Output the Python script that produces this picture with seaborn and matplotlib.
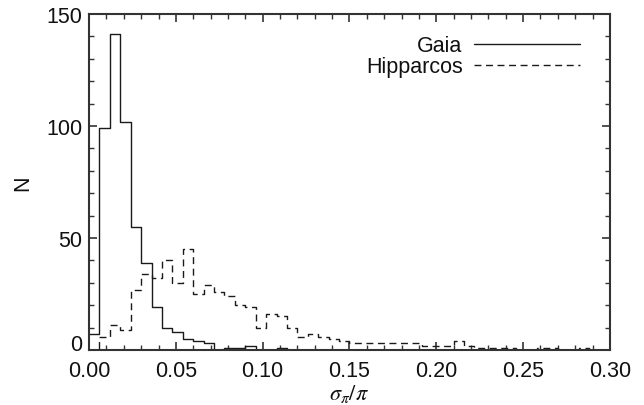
import numpy as np
import pandas as pd
import matplotlib
matplotlib.use("Agg")
import matplotlib.pyplot as plt
import seaborn as sns

# Histogram of relative parallax error, bin width 0.006 from 0 to 0.30
bin_width = 0.006
x_range = (0.0, 0.30)

gaia_counts = [7, 99, 141, 102, 55, 39, 19, 10, 8, 5,
               4, 3, 0, 1, 1, 2, 0, 0, 1, 0,
               0, 0, 0, 0, 0, 0, 0, 0, 0, 0,
               0, 0, 0, 0, 0, 0, 0, 0, 0, 0,
               0, 0, 0, 0, 0, 0, 0, 0, 0, 0]

hipparcos_counts = [0, 6, 11, 9, 27, 34, 32, 40, 30, 45,
                    25, 29, 26, 24, 20, 19, 10, 16, 15, 10,
                    6, 7, 6, 5, 4, 3, 3, 3, 3, 3,
                    3, 3, 2, 2, 2, 4, 2, 1, 1, 1,
                    1, 0, 0, 1, 1, 0, 0, 1, 0, 0]

series_names = ["Gaia", "Hipparcos"]

n_bins = len(gaia_counts)
centers = x_range[0] + bin_width * (np.arange(n_bins) + 0.5)
df = pd.DataFrame({
    "ratio": np.concatenate([centers, centers]),
    "count": np.concatenate([gaia_counts, hipparcos_counts]),
    "survey": [series_names[0]] * n_bins + [series_names[1]] * n_bins,
})

sns.set_style("ticks")
plt.rcParams["font.family"] = ["Liberation Sans", "DejaVu Sans"]
plt.rcParams["mathtext.fontset"] = "stix"

fig = plt.figure(figsize=(6.44, 4.06), dpi=100)
ax = fig.add_axes([0.1383, 0.1355, 0.8087, 0.8275])

line_color = "#1a1a1a"
styles = {"Gaia": "-", "Hipparcos": (0, (5, 3.3))}
for name in series_names:
    sub = df[df["survey"] == name]
    sns.histplot(data=sub, x="ratio", weights="count", bins=n_bins,
                 binrange=x_range, element="step", fill=False, ax=ax,
                 color=line_color, linewidth=1.0, linestyle=styles[name],
                 label=name)

ax.set_xlim(*x_range)
ax.set_ylim(0, 150)
ax.set_xticks(np.arange(0, 0.301, 0.05))
ax.set_xticks(np.arange(0, 0.301, 0.01), minor=True)
ax.set_yticks([0, 50, 100, 150])
ax.set_yticks(np.arange(0, 151, 10), minor=True)
ax.set_xticklabels([f"{v:.2f}" for v in np.arange(0, 0.301, 0.05)])

ax.tick_params(which="both", direction="in", top=True, right=True,
               colors="#333333", labelcolor="#111111", labelsize=15.5)
ax.tick_params(which="major", length=6, width=1.2)
ax.tick_params(axis="x", which="major", pad=7)
ax.tick_params(axis="y", which="major", pad=5)
ax.tick_params(which="minor", length=3.5, width=1.0)
for sp in ax.spines.values():
    sp.set_linewidth(1.5)
    sp.set_color("#333333")

# the zero label sits on the baseline rather than centred on it
ax.yaxis.get_major_ticks()[0].label1.set_verticalalignment("baseline")

ax.set_xlabel(r"$\sigma_\pi/\pi$", fontsize=16, color="#111111", labelpad=1)
ax.set_ylabel("N", fontsize=15.5, color="#111111", labelpad=9)

leg = ax.legend(loc="upper right", frameon=False, markerfirst=False,
                fontsize=15.5, handlelength=4.9, handletextpad=0.55,
                labelspacing=0.0, borderaxespad=0.0,
                bbox_to_anchor=(0.959, 0.962))
for t in leg.get_texts():
    t.set_color("#111111")

fig.savefig("out.png", dpi=100)
